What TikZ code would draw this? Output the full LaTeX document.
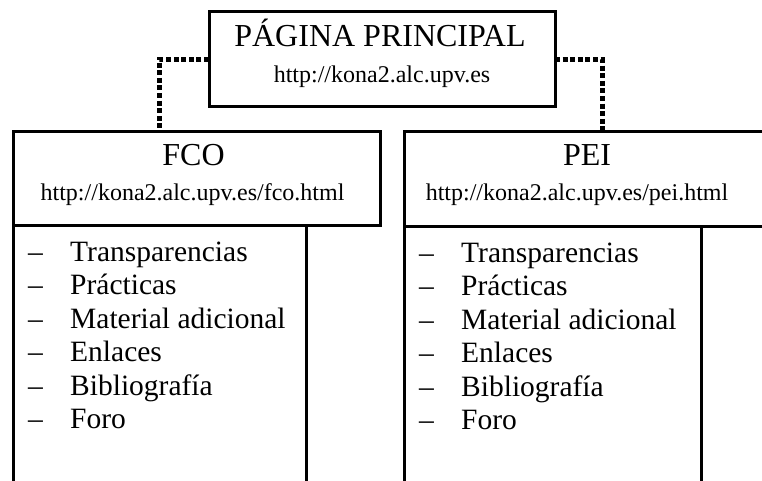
\documentclass[tikz,border=0pt]{standalone}
\usepackage{fontspec}
\setmainfont{Liberation Serif}
\usetikzlibrary{positioning}

\tikzset{
  pagebox/.style={draw, line width=3pt, inner sep=0pt, outer sep=0pt},
  linkline/.style={line width=5pt, dash pattern=on 5pt off 2.6pt},
  bigtext/.style={inner sep=0pt, font=\fontsize{32}{36}\selectfont},
  urltext/.style={inner sep=0pt, font=\fontsize{24}{28}\selectfont},
  itemtext/.style={inner sep=0pt, font=\fontsize{29.5}{33.5}\selectfont, anchor=base west}
}

\begin{document}
\begin{tikzpicture}[x=1pt, y=-1pt]
  \useasboundingbox (0,0) rectangle (762,481);
  \clip (0,0) rectangle (762,481);

  % Main page
  \node[pagebox, minimum width=346pt, minimum height=95pt] (main) at (382,59.5) {};
  \node[bigtext, anchor=base] (maintitle) at ([xshift=-2pt, yshift=-35pt]main.north) {PÁGINA PRINCIPAL};
  \node[urltext, anchor=base] (mainurl) at ([yshift=-71pt]main.north) {http://kona2.alc.upv.es};

  % Subject pages
  \node[pagebox, minimum width=367pt, minimum height=93pt] (fco) at (196.5,178.5) {};
  \node[pagebox, minimum width=366pt, minimum height=94pt] (pei) at (587,179) {};
  \node[bigtext, anchor=base] (fcotitle) at ([xshift=-3pt, yshift=-33pt]fco.north) {FCO};
  \node[urltext, anchor=base] (fcourl) at ([xshift=-4pt, yshift=-68pt]fco.north) {http://kona2.alc.upv.es/fco.html};
  \node[bigtext, anchor=base] (peititle) at ([yshift=-33pt]pei.north) {PEI};
  \node[urltext, anchor=base] (peiurl) at ([xshift=-10pt, yshift=-68pt]pei.north) {http://kona2.alc.upv.es/pei.html};

  % Content lists
  \node[pagebox, minimum width=293pt, minimum height=280pt, anchor=north west] (fcolist) at (fco.south west) {};
  \node[pagebox, minimum width=297pt, minimum height=280pt, anchor=north west] (peilist) at (pei.south west) {};
  \foreach \sub in {fco, pei}
    \foreach \entry [count=\i] in {Transparencias, Prácticas, Material adicional, Enlaces, Bibliografía, Foro}
      \node[itemtext] (\sub item\i) at ([xshift=15pt, yshift={-36pt-33.5pt*(\i-1)}]\sub list.north west)
        {\makebox[42pt][l]{–}\entry};

  % Links
  \draw[linkline] (main.west) -| ([xshift=146pt]fco.north west);
  \draw[linkline] (main.east) -| ([xshift=198pt]pei.north west);
\end{tikzpicture}
\end{document}
